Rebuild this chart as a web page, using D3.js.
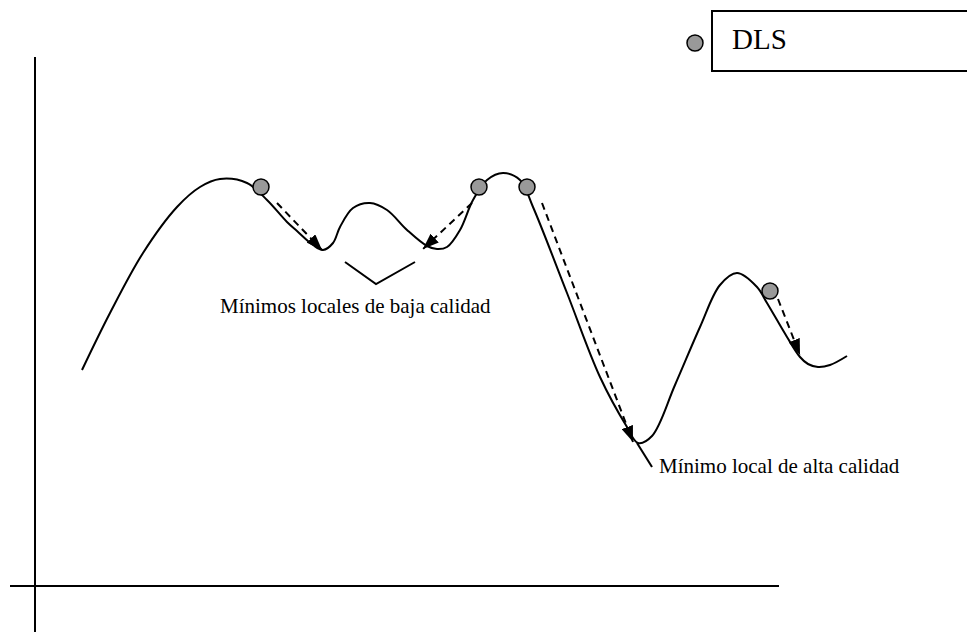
<!DOCTYPE html>
<html>
<head>
<meta charset="utf-8">
<script src="https://cdn.jsdelivr.net/npm/d3@7"></script>
<style>
  body { margin: 0; background: #fff; }
  svg text { font-family: "Liberation Serif", "Times New Roman", serif; fill: #000; }
</style>
</head>
<body>
<script>
const w = 967;
const h = 632;

// landscape curve (x, y) in plot units, origin at the axes crossing
const curveX = [47, 75, 108, 142, 165, 185, 212, 232, 252, 262, 278, 288, 298, 305, 318, 335, 352, 372, 392, 402, 412, 425, 438, 452, 468, 485, 498, 532, 565, 592, 603, 617, 640, 665, 685, 702, 722, 732, 752, 765, 773, 783, 795, 812];
const curveY = [216, 273, 333, 379, 399, 407, 403, 386, 364, 355, 341, 336, 343, 359, 378, 383, 376, 356, 340, 337, 339, 356, 386, 406, 413, 406, 379, 293, 209, 159, 143, 150, 201, 259, 301, 313, 299, 283, 249, 229, 222, 219, 221, 230];

// DLS solutions sitting on the curve
const dlsX = [226, 444, 492, 735];
const dlsY = [399, 399, 399, 295];

// descent moves: start -> end
const moveX0 = [242, 437, 507, 743];
const moveY0 = [383, 383, 383, 287];
const moveX1 = [287, 388, 598, 765];
const moveY1 = [336, 337, 144, 231];

// bracket under the poor minima and pointer to the good one
const bracketX = [310, 341, 380];
const bracketY = [324, 302, 324];
const pointerX = [602, 617];
const pointerY = [143, 119];

const labels = ["Mínimos locales de baja calidad", "Mínimo local de alta calidad"];
const labelX = [185, 624];
const labelY = [273, 113];
const legendLabel = "DLS";

const xScale = d3.scaleLinear().domain([0, 744]).range([35, 779]);
const yScale = d3.scaleLinear().domain([0, 529]).range([586, 57]);

const svg = d3.select("body").append("svg").attr("width", w).attr("height", h);

svg.append("defs")
  .append("marker")
  .attr("id", "head")
  .attr("viewBox", "0 0 16 12")
  .attr("refX", 16)
  .attr("refY", 6)
  .attr("markerWidth", 16)
  .attr("markerHeight", 12)
  .attr("markerUnits", "userSpaceOnUse")
  .attr("orient", "auto")
  .append("path")
  .attr("d", "M0,0 L16,6 L0,12 Z")
  .attr("fill", "#000");

// axes
const line = d3.line().x((d) => xScale(d[0])).y((d) => yScale(d[1]));

svg.append("path")
  .attr("d", line([[0, -46], [0, 529]]))
  .attr("stroke", "#000").attr("stroke-width", 2).attr("fill", "none");
svg.append("path")
  .attr("d", line([[-25, 0], [744, 0]]))
  .attr("stroke", "#000").attr("stroke-width", 2).attr("fill", "none");

// landscape
const pts = curveX.map((x, i) => [x, curveY[i]]);
svg.append("path")
  .attr("d", d3.line().curve(d3.curveCatmullRom.alpha(0.5)).x((d) => xScale(d[0])).y((d) => yScale(d[1]))(pts))
  .attr("stroke", "#000").attr("stroke-width", 2).attr("fill", "none");

// dashed moves
svg.selectAll("line.move")
  .data(moveX0)
  .enter()
  .append("line")
  .attr("class", "move")
  .attr("x1", (d) => xScale(d))
  .attr("y1", (d, i) => yScale(moveY0[i]))
  .attr("x2", (d, i) => xScale(moveX1[i]))
  .attr("y2", (d, i) => yScale(moveY1[i]))
  .attr("stroke", "#000")
  .attr("stroke-width", 2)
  .attr("stroke-dasharray", "7,5")
  .attr("marker-end", "url(#head)");

// bracket + pointer
svg.append("path")
  .attr("d", line(bracketX.map((x, i) => [x, bracketY[i]])))
  .attr("stroke", "#000").attr("stroke-width", 2).attr("fill", "none");
svg.append("path")
  .attr("d", line(pointerX.map((x, i) => [x, pointerY[i]])))
  .attr("stroke", "#000").attr("stroke-width", 2).attr("fill", "none");

// DLS points
svg.selectAll("circle.dls")
  .data(dlsX)
  .enter()
  .append("circle")
  .attr("class", "dls")
  .attr("cx", (d) => xScale(d))
  .attr("cy", (d, i) => yScale(dlsY[i]))
  .attr("r", 8)
  .attr("fill", "#999")
  .attr("stroke", "#000")
  .attr("stroke-width", 1.5);

// labels
svg.selectAll("text.lbl")
  .data(labels)
  .enter()
  .append("text")
  .attr("class", "lbl")
  .attr("x", (d, i) => xScale(labelX[i]))
  .attr("y", (d, i) => yScale(labelY[i]))
  .attr("font-size", 21)
  .text((d) => d);

// legend
const legend = svg.append("g");
legend.append("path")
  .attr("d", "M967,11 H712 V71 H967")
  .attr("stroke", "#000").attr("stroke-width", 2).attr("fill", "none");
legend.append("circle")
  .attr("cx", 695).attr("cy", 43).attr("r", 8)
  .attr("fill", "#999").attr("stroke", "#000").attr("stroke-width", 1.5);
legend.append("text")
  .attr("x", 732).attr("y", 49)
  .attr("font-size", 29)
  .text(legendLabel);
</script>
</body>
</html>
